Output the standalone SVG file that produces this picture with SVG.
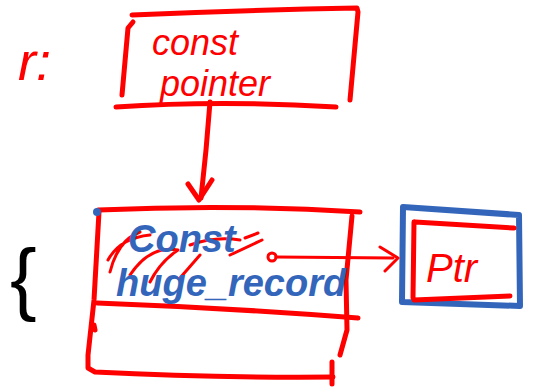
<svg xmlns="http://www.w3.org/2000/svg" width="533" height="392" viewBox="0 0 533 392">
<style>
.r{fill:none;stroke:#ff0000;stroke-width:5;stroke-linecap:round;stroke-linejoin:round}
.rt{fill:none;stroke:#ff0000;stroke-width:3;stroke-linecap:round;stroke-linejoin:round}
.b{fill:none;stroke:#3366bb;stroke-width:6;stroke-linecap:round;stroke-linejoin:round}
.tr{fill:#ff0000;font-family:"Liberation Sans",sans-serif;font-style:italic}
.tb{fill:#3366bb;font-family:"Liberation Sans",sans-serif;font-style:italic;font-weight:bold}
</style>
<rect width="533" height="392" fill="#ffffff"/>
<g id="label-r">
<text class="tr" x="18" y="80" font-size="54" font-style="normal">r:</text>
</g>
<g id="const-pointer">
<path class="r" d="M133,22 L128,28 L122,95"/>
<path class="r" d="M132,15 Q250,10 357,8 L358,12 L350,100"/>
<path class="r" d="M116,107 Q220,100 336,107"/>
<text class="tr" x="152" y="55" font-size="36">const</text>
<text class="tr" x="160" y="96" font-size="36">pointer</text>
</g>
<g id="record">
<path class="r" d="M98,210 Q230,204 360,212"/>
<path class="r" d="M99,212 L94,300 L88,355 L88,368 L95,372 Q210,378 333,377"/>
<path class="r" d="M95,330 L94,325"/>
<path class="r" d="M352,216 L346,280 L347,330 L340,355"/>
<path class="r" d="M97,303 Q230,308 358,318"/>
<path class="r" d="M332,362 L332,384"/>
<circle cx="97" cy="212" r="4" fill="#3366bb"/>
<path class="rt" d="M110,272 Q118,240 140,232 M108,260 Q120,238 150,235 M130,275 Q150,245 178,250 Q160,262 150,282 M180,278 L200,255 M230,255 L262,240 M258,233 L245,238 M190,245 Q215,236 240,240"/>
<circle class="rt" cx="272" cy="257" r="4"/>
<text class="tb" x="128" y="252" font-size="38">Const</text>
<text class="tb" x="116" y="296" font-size="38">huge_record</text>
</g>
<g id="ptr">
<path class="b" d="M403,207 L519,215 L520,306 L402,302 Z"/>
<path class="r" d="M415,222 L514,228 M414,300 L510,296 M414,222 L413,298"/>
<text class="tr" x="426" y="282" font-size="40">Ptr</text>
</g>
<g id="brace">
<text x="10" y="305" font-family="Liberation Sans, sans-serif" font-size="80" fill="#000000">{</text>
</g>
<g id="connectors">
<path class="r" d="M210,102 L206,150 L201,198"/>
<path class="r" d="M188,184 L199,200 L212,180"/>
<path class="rt" d="M276,257 L393,258"/>
<path class="rt" d="M380,247 L398,258 L385,271"/>
</g>
</svg>
